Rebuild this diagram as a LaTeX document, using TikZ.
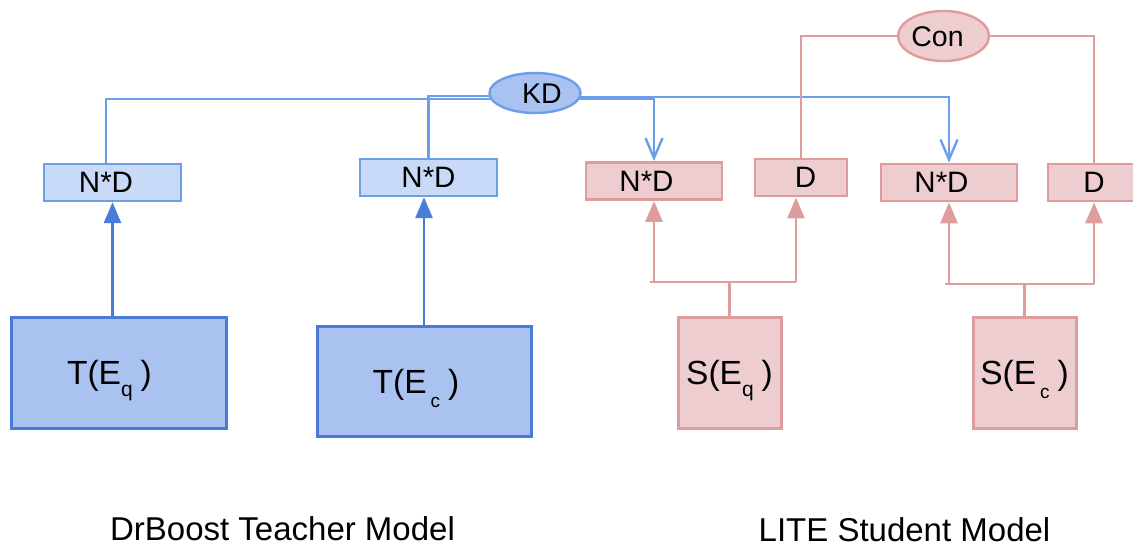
\documentclass[tikz,border=0pt]{standalone}
\usepackage{fontspec}
\setmainfont{Liberation Sans}
\usetikzlibrary{arrows.meta,shapes.geometric,backgrounds}
\definecolor{bluelight}{HTML}{C9DAF8}
\definecolor{bluemid}{HTML}{A9C2EF}
\definecolor{bluestroke}{HTML}{6D9EEB}
\definecolor{bluedark}{HTML}{4A7BD6}
\definecolor{pinkfill}{HTML}{EDCDCF}
\definecolor{pinkstroke}{HTML}{DE9C9C}
\newcommand{\lowsub}[3]{\raisebox{-#1}{\fontsize{#2}{#2}\selectfont #3}}
\begin{document}
\begin{tikzpicture}[x=1pt,y=-1pt,
 every node/.style={inner sep=0pt},
 bsmall/.style={draw=bluestroke, fill=bluelight, line width=2.4pt, minimum width=137pt, minimum height=37pt, font=\fontsize{29.5}{30}\selectfont, text height=20.5pt, text depth=0pt},
 bbig/.style={draw=bluedark, fill=bluemid, line width=3pt, minimum width=215pt, minimum height=111pt, font=\fontsize{33.5}{36}\selectfont, text height=24pt, text depth=0pt},
 psmall/.style={draw=pinkstroke, fill=pinkfill, line width=2.8pt, minimum height=37pt, font=\fontsize{29.5}{30}\selectfont, text height=20.5pt, text depth=0pt},
 pbig/.style={draw=pinkstroke, fill=pinkfill, line width=3pt, minimum width=103pt, minimum height=111pt, font=\fontsize{33.5}{36}\selectfont, text height=24pt, text depth=0pt},
 bell/.style={ellipse, draw=bluestroke, fill=bluemid, line width=2.4pt, minimum width=91pt, minimum height=40pt, font=\fontsize{28.5}{30}\selectfont, text height=20pt, text depth=0pt},
 pell/.style={ellipse, draw=pinkstroke, fill=pinkfill, line width=2.4pt, minimum width=91pt, minimum height=50pt, font=\fontsize{28.5}{30}\selectfont, text height=20pt, text depth=0pt},
 kdline/.style={draw=bluestroke, line width=2.4pt},
 kdarrow/.style={kdline, -{Straight Barb[length=20pt,width=17pt]}},
 tarrow/.style={draw=bluedark, line width=2.8pt, -{Triangle[length=21pt,width=17pt]}},
 pline/.style={draw=pinkstroke, line width=2.8pt},
 conline/.style={draw=pinkstroke, line width=2.4pt},
 parrow/.style={pline, -{Triangle[length=21pt,width=17pt]}},
 caption/.style={font=\fontsize{33}{36}\selectfont, anchor=base, text depth=0pt}
]
\useasboundingbox (0,0) rectangle (1133,546);
% nodes
\node[bsmall] (ndL) at (112.5,182.5) {N*D\hspace*{13pt}};
\node[bsmall] (ndM) at (428.5,177.5) {N*D};
\node[psmall, minimum width=136pt] (ndP1) at (654,181) {N*D\hspace*{15pt}};
\node[psmall, minimum width=92pt] (dP1) at (801,177.5) {\hspace*{9pt}D};
\node[psmall, minimum width=136pt] (ndP2) at (949,182.5) {N*D\hspace*{15pt}};
\node[psmall, minimum width=92pt] (dP2) at (1094,182.5) {D};
\node[bbig] (TEq) at (118.5,372.5) {T(E\lowsub{12pt}{21}{q}\hspace{8pt})\hspace*{18pt}};
\node[bbig, minimum width=214pt, minimum height=110pt] (TEc) at (424,381) {T(E\hspace{4pt}\lowsub{14pt}{19}{c}\hspace{8pt})\hspace*{16pt}};
\node[pbig] (SEq) at (729.5,372.5) {S(E\lowsub{12pt}{21}{q}\hspace{8pt})};
\node[pbig] (SEc) at (1024.5,372.5) {S(E\hspace{4pt}\lowsub{14pt}{19}{c}\hspace{8pt})};
\node[bell] (KD) at (535,93) {\hspace*{14pt}KD};
\node[pell] (Con) at (943.5,36) {Con\hspace*{12pt}};
\node[caption] (capT) at (282.5,540) {DrBoost Teacher Model};
\node[caption] (capS) at (904.5,541) {LITE Student Model};
% junction points
\coordinate (jq) at (729.5,282);
\coordinate (jqL) at (650,282);
\coordinate (jqR) at (796,282);
\coordinate (jc) at (1024.5,284);
\coordinate (jcL) at (945,284);
\coordinate (jcR) at (1094,284);
\begin{scope}[on background layer]
\fill[white] (0,0) rectangle (1133,546);
\draw[kdline] ([yshift=-6pt]KD.center) -| ([xshift=-6.5pt]ndL.north);
\draw[kdline] ([yshift=-3pt]KD.center) -| (ndM.north);
\draw[kdarrow] ([yshift=-6pt]KD.center) -| (ndP1.north);
\draw[kdarrow] ([yshift=-4pt]KD.center) -| (ndP2.north);
\draw[conline] (Con.center) -| (dP1.north);
\draw[conline] (Con.center) -| (dP2.north);
\draw[tarrow] (TEq.north -| ndL.south) -- (ndL.south);
\draw[tarrow] (TEc.north) -- (TEc.north |- ndM.south);
\draw[pline] (SEq.north) -- (jq);
\draw[pline] (jqL) -- (jqR);
\draw[parrow] (jqL -| ndP1.south) -- (ndP1.south);
\draw[parrow] (jqR) -- (jqR |- dP1.south);
\draw[pline] (SEc.north) -- (jc);
\draw[pline] (jcL) -- (jcR);
\draw[parrow] (jcL -| ndP2.south) -- (ndP2.south);
\draw[parrow] (jcR) -- (dP2.south);
\end{scope}
\end{tikzpicture}
\end{document}
